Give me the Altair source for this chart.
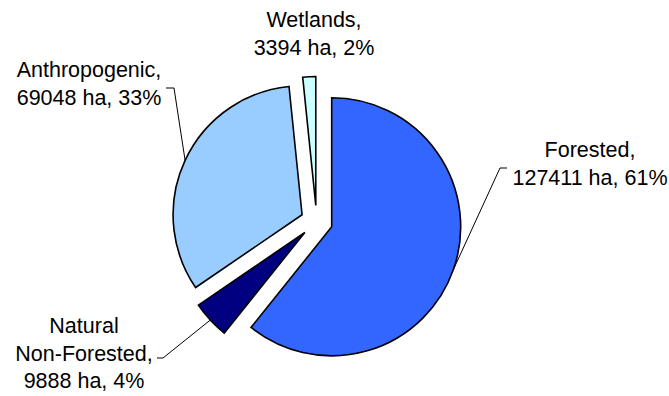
import altair as alt
import pandas as pd

# ---- data ----
CATEGORIES = ["Forested", "Natural Non-Forested", "Anthropogenic", "Wetlands"]
DISPLAY = ["Forested,", "Natural\nNon-Forested,", "Anthropogenic,", "Wetlands,"]
AREA_HA = [127411, 9888, 69048, 3394]
PERCENT = [61, 4, 33, 2]

# ---- styles / layout ----
COLORS = ["#3366FF", "#000080", "#99CCFF", "#CCFFFF"]
CX, CY, R, EXPLODE = 316.6, 221.5, 129, 16
FONT = "Liberation Sans"
FONT_SIZE = 21.5
LINE_H = 27.7

# label anchor (center x, baseline of first line), leader tail and elbow
LAYOUT = {
    "Forested": dict(lx=590, ly=157, tail=(507, 168), elbow=(500, 168)),
    "Natural Non-Forested": dict(lx=84, ly=333, tail=(157, 358), elbow=(163, 358)),
    "Anthropogenic": dict(lx=89, ly=77, tail=(166, 88), elbow=(174, 88)),
    "Wetlands": dict(lx=314, ly=27, tail=None, elbow=None),
}

rows = []
for i, (cat, disp, val, pct) in enumerate(zip(CATEGORIES, DISPLAY, AREA_HA, PERCENT)):
    lay = LAYOUT[cat]
    lead = lay["tail"] is not None
    rows.append(dict(
        category=cat, value=val, idx=i,
        label=f"{disp}\n{val} ha, {pct}%",
        lx=lay["lx"], ly=lay["ly"],
        bx=lay["tail"][0] if lead else None, by=lay["tail"][1] if lead else None,
        kx=lay["elbow"][0] if lead else None, ky=lay["elbow"][1] if lead else None,
        lead=lead,
    ))
df = pd.DataFrame(rows)

base = (
    alt.Chart(df)
    .transform_joinaggregate(total="sum(value)")
    .transform_window(cum="sum(value)", sort=[alt.SortField("idx", order="ascending")], frame=[None, 0])
    .transform_calculate(
        t0="2*PI*(datum.cum - datum.value)/datum.total",
        t1="2*PI*datum.cum/datum.total",
    )
    .transform_calculate(mid="(datum.t0 + datum.t1)/2")
    .transform_calculate(
        px=f"{CX} + {EXPLODE}*sin(datum.mid)",
        py=f"{CY} - {EXPLODE}*cos(datum.mid)",
        ex=f"{CX} + {EXPLODE + R}*sin(datum.mid)",
        ey=f"{CY} - {EXPLODE + R}*cos(datum.mid)",
    )
)

pie = base.mark_arc(outerRadius=R, innerRadius=0, stroke="black", strokeWidth=1.6, strokeJoin="miter").encode(
    x=alt.X("px:Q", scale=None, axis=None, stack=False),
    y=alt.Y("py:Q", scale=None, axis=None, stack=False),
    theta=alt.Theta("t0:Q", scale=None),
    theta2=alt.Theta2("t1"),
    color=alt.Color("category:N", scale=alt.Scale(domain=CATEGORIES, range=COLORS), legend=None),
)

leaders = base.transform_filter("datum.lead")

lead1 = leaders.mark_rule(color="black", strokeWidth=1).encode(
    x=alt.X("bx:Q", scale=None, axis=None),
    x2="kx",
    y=alt.Y("by:Q", scale=None, axis=None),
    y2="ky",
)
lead2 = leaders.mark_rule(color="black", strokeWidth=1).encode(
    x=alt.X("kx:Q", scale=None, axis=None),
    x2="ex",
    y=alt.Y("ky:Q", scale=None, axis=None),
    y2="ey",
)

labels = base.mark_text(
    lineBreak="\n", align="center", baseline="alphabetic",
    font=FONT, fontSize=FONT_SIZE, lineHeight=LINE_H, color="black",
).encode(
    x=alt.X("lx:Q", scale=None, axis=None),
    y=alt.Y("ly:Q", scale=None, axis=None),
    text="label:N",
)

chart = (
    alt.layer(pie, lead1, lead2, labels)
    .properties(width=669, height=396, autosize="none", padding=0, background="white")
    .configure_view(stroke=None)
)

chart.save("out.html", embed_options={"renderer": "svg", "actions": False})
